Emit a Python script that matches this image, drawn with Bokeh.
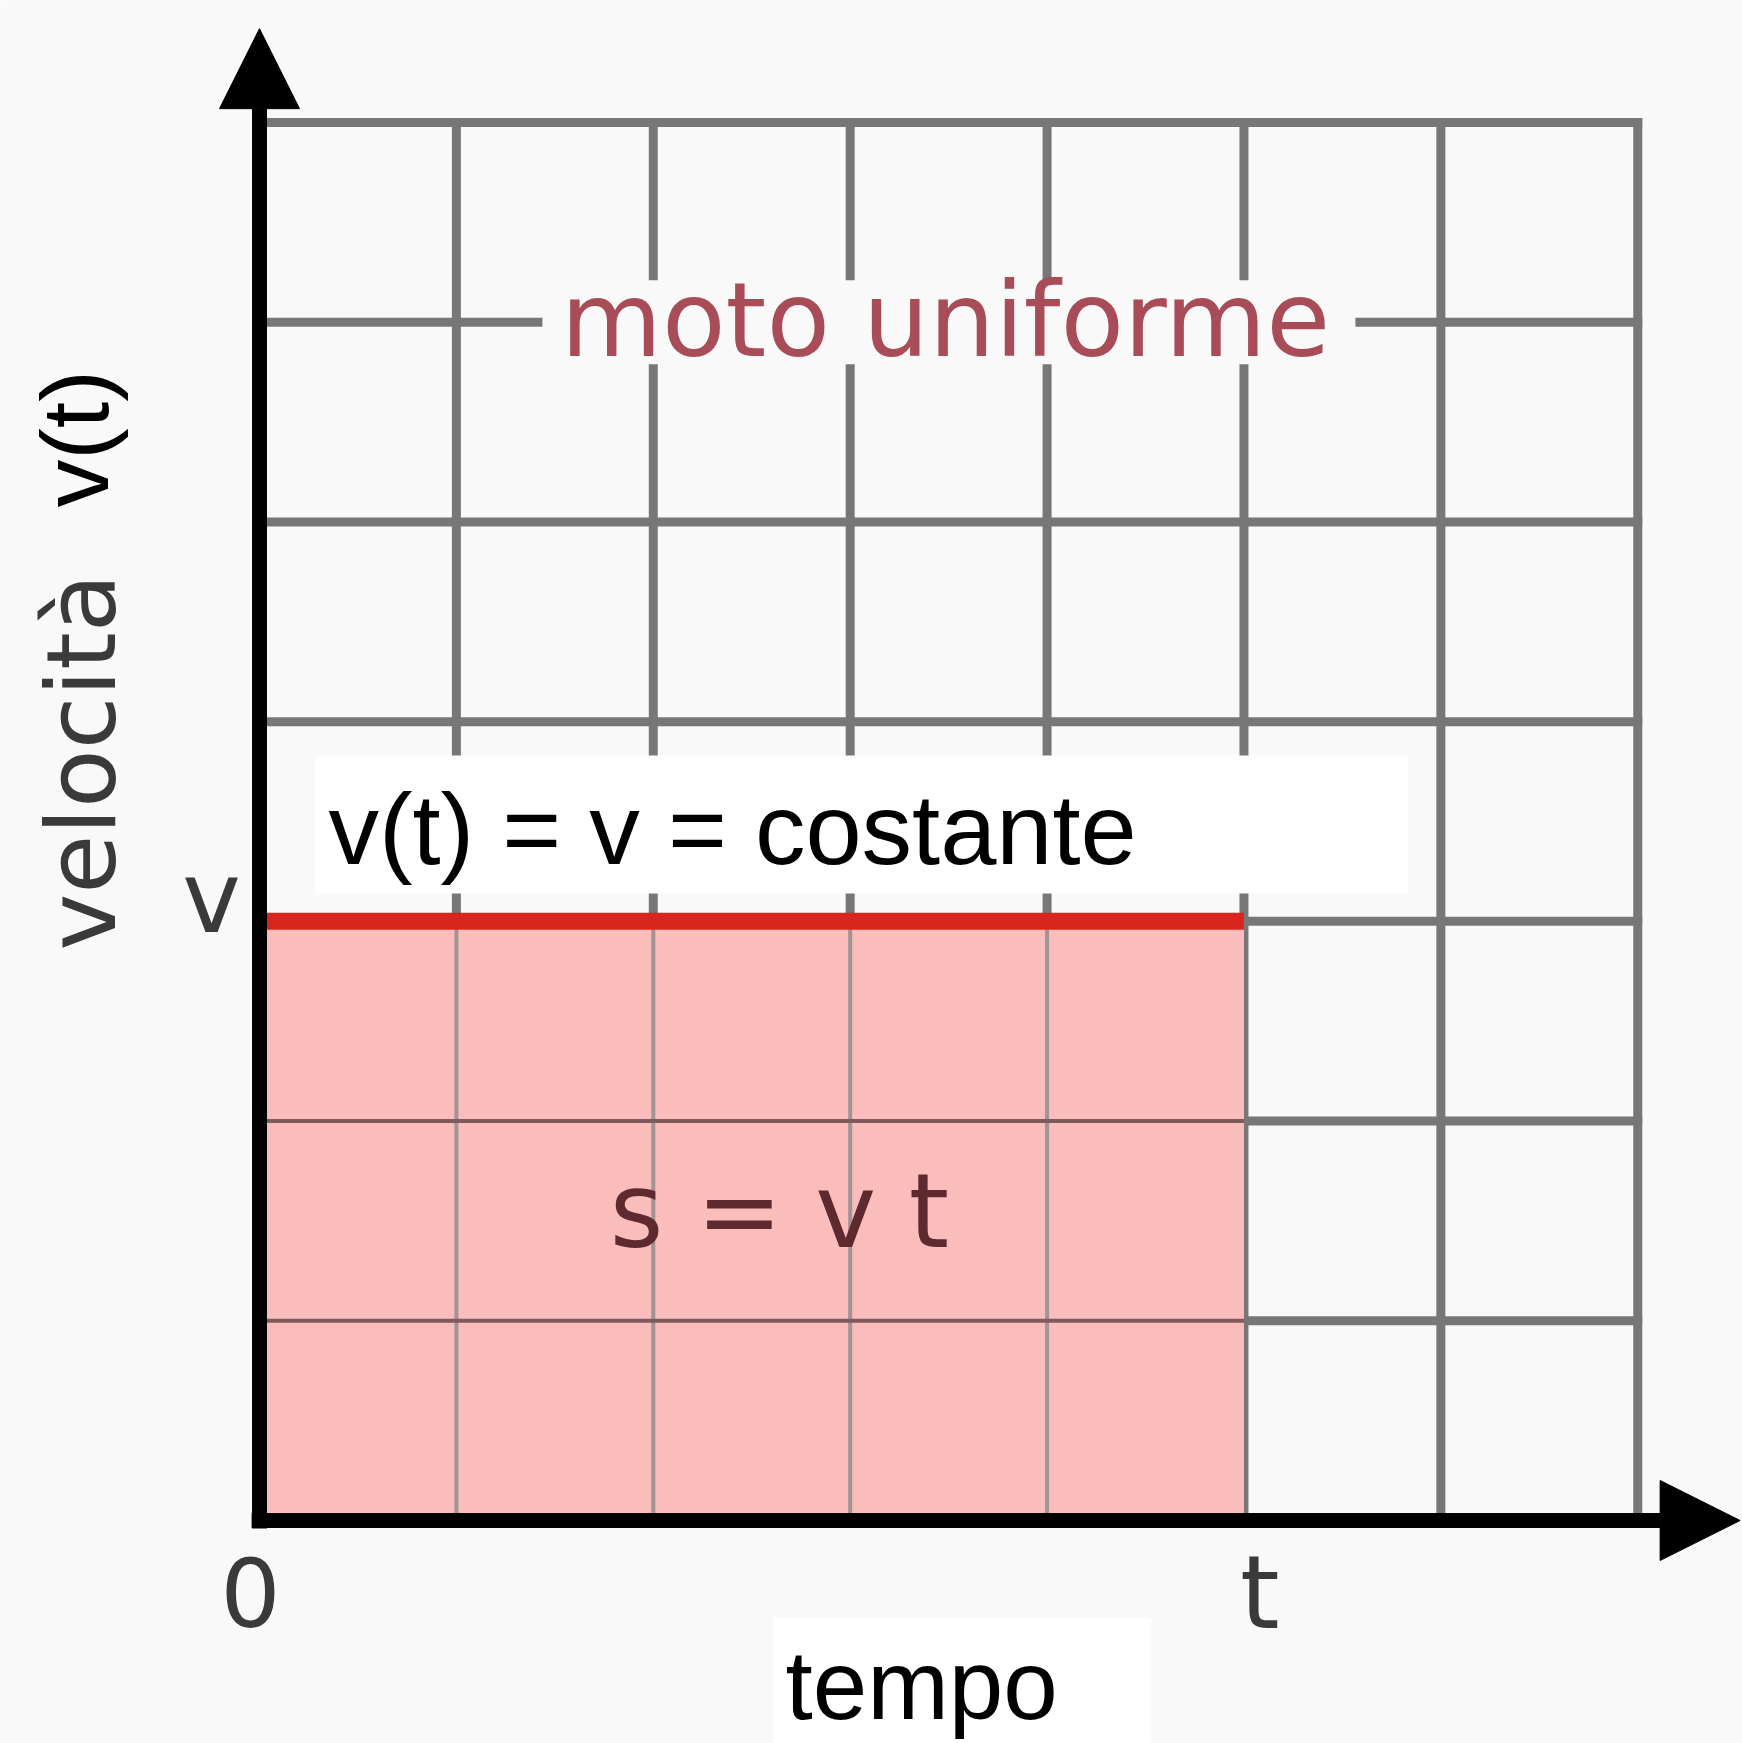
import math
from bokeh.plotting import figure
from bokeh.models import Range1d, Label, Arrow, NormalHead
from bokeh.embed import file_html
from bokeh.resources import INLINE

# velocity-time diagram of uniform motion
t_ticks = [0, 1, 2, 3, 4, 5, 6, 7]      # time grid (arbitrary units)
v_ticks = [0, 1, 2, 3, 4, 5, 6, 7]      # velocity grid
v_const = 3                             # constant velocity v
t_end = 5                               # elapsed time t
origin_label = "0"
t_label = "t"
v_label = "v"

title_text = "moto uniforme"
law_text = "v(t) = v = costante"
area_text = "s = v t"
x_title = "tempo"
y_title_a = "velocità"
y_title_b = "v(t)"

BG = "#f9f9f9"
GRID = "#777777"
PINK = "#fbbcbc"
RED = "#d8261f"
DARK = "#3a3a3a"

p = figure(width=1742, height=1743,
           x_range=Range1d(-1.3154, 7.532), y_range=Range1d(-1.1167, 7.611),
           x_axis_location=None, y_axis_location=None,
           output_backend="svg", toolbar_location=None, min_border=0,
           background_fill_color=BG, border_fill_color=BG,
           outline_line_color=None)
p.xgrid.visible = False
p.ygrid.visible = False

x_lo, x_hi = t_ticks[0], t_ticks[-1]
y_lo, y_hi = v_ticks[0], v_ticks[-1]

# square grid
p.segment(x0=[x_lo] * len(v_ticks), y0=v_ticks, x1=[x_hi] * len(v_ticks), y1=v_ticks,
          line_color=GRID, line_width=9, line_cap="square")
p.segment(x0=t_ticks, y0=[y_lo] * len(t_ticks), x1=t_ticks, y1=[y_hi] * len(t_ticks),
          line_color=GRID, line_width=9, line_cap="square")

# gap around the title inside the grid
p.quad(left=1.437, right=5.566, bottom=5.79, top=6.21, fill_color=BG, line_color=None)

# area under v(t): travelled distance s = v t
p.quad(left=[x_lo], right=[t_end], bottom=[y_lo], top=[v_const],
       fill_color=PINK, line_color=None)
inner_t = [t for t in t_ticks if x_lo < t < t_end]
inner_v = [v for v in v_ticks if y_lo < v < v_const]
p.segment(x0=inner_t, y0=[y_lo] * len(inner_t), x1=inner_t, y1=[v_const] * len(inner_t),
          line_color="#a09494", line_width=4)
p.segment(x0=[x_lo] * len(inner_v), y0=inner_v, x1=[t_end] * len(inner_v), y1=inner_v,
          line_color="#7e5a5a", line_width=4)

# constant velocity
p.line(x=[x_lo, t_end], y=[v_const, v_const], line_color=RED, line_width=17)

# white boxes behind the black captions
p.quad(left=0.284, right=5.835, bottom=3.14, top=3.83, fill_color="white", line_color=None)
p.quad(left=2.61, right=4.53, bottom=-1.2, top=-0.486, fill_color="white", line_color=None)

# axes with arrow heads
p.add_layout(Arrow(end=NormalHead(size=80, fill_color="black", line_color="black", line_width=1),
                   x_start=x_lo, y_start=-0.04, x_end=x_lo, y_end=7.47,
                   line_color="black", line_width=15))
p.add_layout(Arrow(end=NormalHead(size=80, fill_color="black", line_color="black", line_width=1),
                   x_start=-0.04, y_start=y_lo, x_end=7.52, y_end=y_lo,
                   line_color="black", line_width=15))

def lab(x, y, text, font, size, color, align="left", angle=0.0):
    p.add_layout(Label(x=x, y=y, text=text, text_font=font, text_font_size=f"{size}px",
                       text_color=color, text_align=align, text_baseline="alphabetic",
                       angle=angle))

lab(3.484, 6.009, title_text, "DejaVu Sans", 104, "#a84c58", "center")
lab(2.641, 1.552, area_text, "DejaVu Sans", 103, "#5e2a30", "center")
lab(0.350, 3.46, law_text, "Liberation Sans", 101, "black")
lab(2.671, -0.826, x_title, "Liberation Sans", 98, "black")
lab(-0.899, 2.854, y_title_a, "DejaVu Sans", 96, DARK, angle=math.pi / 2)
lab(-0.935, 5.073, y_title_b, "Liberation Sans", 95, "black", angle=math.pi / 2)
lab(-0.244, v_const + 0.119, v_label, "DejaVu Sans", 99, DARK, "center")
lab(x_lo - 0.046, -0.361, origin_label, "DejaVu Sans", 95, DARK, "center")
lab(t_end + 0.08, -0.361, t_label, "DejaVu Sans", 101, DARK, "center")

open("out.html", "w").write(file_html(p, INLINE))
